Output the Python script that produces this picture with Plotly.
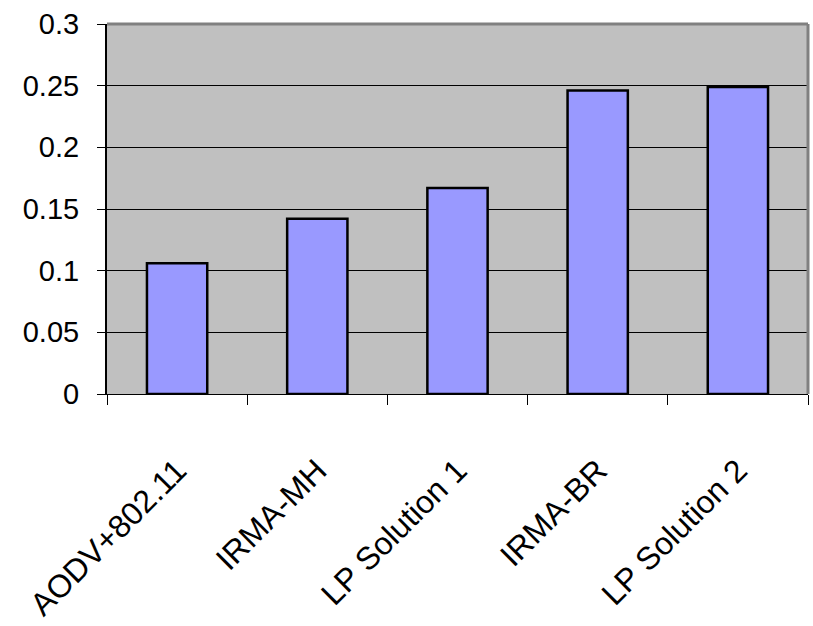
import plotly.graph_objects as go

# Average values per protocol
categories = ["AODV+802.11", "IRMA-MH", "LP Solution 1", "IRMA-BR", "LP Solution 2"]
values = [0.106, 0.142, 0.167, 0.246, 0.249]
y_ticks = [0, 0.05, 0.1, 0.15, 0.2, 0.25, 0.3]
y_tick_text = ["0", "0.05", "0.1", "0.15", "0.2", "0.25", "0.3"]

font_family = "Liberation Sans, Arial, sans-serif"

fig = go.Figure(
    go.Bar(
        x=categories,
        y=values,
        marker=dict(color="#9999FF", line=dict(color="black", width=2.5)),
    )
)

fig.update_layout(
    width=813,
    height=626,
    margin=dict(l=107, r=5, t=24, b=232),
    paper_bgcolor="white",
    plot_bgcolor="#C0C0C0",
    bargap=0.57,
    showlegend=False,
    font=dict(family=font_family, size=28, color="black"),
)

fig.update_xaxes(
    type="category",
    automargin=False,
    tickangle=-45,
    ticks="outside",
    tickson="boundaries",
    ticklen=10,
    tickcolor="black",
    showline=True,
    linecolor="black",
    linewidth=1,
    showgrid=False,
    ticklabelstandoff=44,
    tickfont=dict(family=font_family, size=32),
)

fig.update_yaxes(
    range=[0, 0.3],
    automargin=False,
    tickvals=y_ticks,
    ticktext=y_tick_text,
    ticks="outside",
    ticklen=8,
    tickcolor="black",
    showline=True,
    linecolor="black",
    linewidth=2,
    showgrid=True,
    gridcolor="black",
    gridwidth=1,
    zeroline=True,
    zerolinecolor="black",
    zerolinewidth=1,
    ticklabelstandoff=12,
    tickfont=dict(family=font_family, size=29),
)

# gray frame on the top and right edges of the plot area
fig.add_shape(type="line", xref="paper", yref="paper", x0=0, x1=1, y0=1, y1=1,
              line=dict(color="#808080", width=3))
fig.add_shape(type="line", xref="paper", yref="paper", x0=1, x1=1, y0=0, y1=1,
              line=dict(color="#808080", width=3))

fig.write_html("out.html")
